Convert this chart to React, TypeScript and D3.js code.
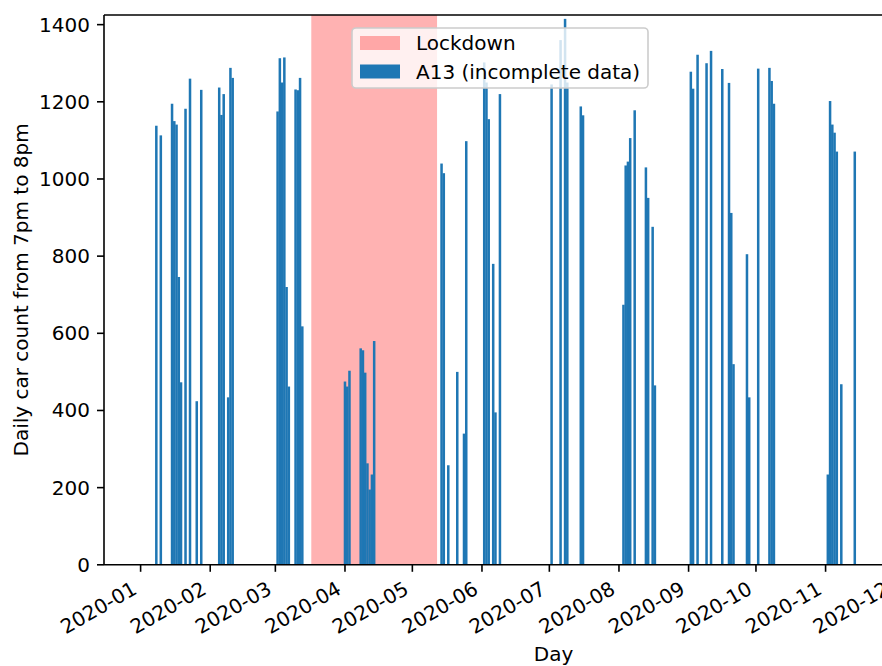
import React from "react";
import * as d3 from "d3";

// days with A13 counts (missing days are simply absent)
const barDates = [
  "2020-01-08", "2020-01-10", "2020-01-15", "2020-01-16", "2020-01-17", "2020-01-18", "2020-01-19",
  "2020-01-21", "2020-01-23", "2020-01-26", "2020-01-28",
  "2020-02-05", "2020-02-06", "2020-02-07", "2020-02-09", "2020-02-10", "2020-02-11",
  "2020-03-02", "2020-03-03", "2020-03-04", "2020-03-05", "2020-03-06", "2020-03-07",
  "2020-03-10", "2020-03-11", "2020-03-12", "2020-03-13",
  "2020-04-01", "2020-04-02", "2020-04-03", "2020-04-08", "2020-04-09", "2020-04-10",
  "2020-04-11", "2020-04-12", "2020-04-13", "2020-04-14",
  "2020-05-14", "2020-05-15", "2020-05-17", "2020-05-21", "2020-05-24", "2020-05-25",
  "2020-06-02", "2020-06-03", "2020-06-04", "2020-06-06", "2020-06-07", "2020-06-09",
  "2020-07-02", "2020-07-06", "2020-07-08", "2020-07-09", "2020-07-15", "2020-07-16",
  "2020-08-03", "2020-08-04", "2020-08-05", "2020-08-06", "2020-08-08",
  "2020-08-13", "2020-08-14", "2020-08-16", "2020-08-17",
  "2020-09-02", "2020-09-03", "2020-09-05", "2020-09-09", "2020-09-11", "2020-09-16",
  "2020-09-19", "2020-09-20", "2020-09-21", "2020-09-27", "2020-09-28",
  "2020-10-02", "2020-10-07", "2020-10-08", "2020-10-09",
  "2020-11-02", "2020-11-03", "2020-11-04", "2020-11-05", "2020-11-06", "2020-11-08", "2020-11-14",
];

const carCounts = [
  1138, 1113, 1195, 1150, 1141, 746, 473,
  1182, 1260, 424, 1231,
  1237, 1166, 1220, 434, 1288, 1262,
  1175, 1313, 1250, 1315, 720, 462,
  1232, 1230, 1262, 618,
  475, 462, 503, 561, 556, 498,
  263, 195, 234, 580,
  1040, 1015, 258, 500, 340, 1098,
  1302, 1250, 1155, 780, 395, 1220,
  1245, 1360, 1415, 1250, 1188, 1165,
  674, 1035, 1045, 1106, 1178,
  1030, 951, 876, 465,
  1278, 1234, 1322, 1300, 1332, 1285,
  1249, 912, 520, 805, 434,
  1286, 1288, 1254, 1195,
  234, 1202, 1141, 1120, 1071, 468, 1071,
];

const lockdownRange = ["2020-03-17", "2020-05-12"];
const yTicks = [0, 200, 400, 600, 800, 1000, 1200, 1400];
const legendLabels = ["Lockdown", "A13 (incomplete data)"];

const DAY = 864e5;
const parse = d3.utcParse("%Y-%m-%d");
const fmt = d3.utcFormat("%Y-%m");

const left = 104, right = 1003, top = 15, bottom = 564.8;
const fs = 20;

export default function App() {
  const jan1 = parse("2020-01-01")!;
  const x = d3.scaleUtc()
    .domain([new Date(jan1.getTime() - 16.3 * DAY), new Date(jan1.getTime() + 384 * DAY)])
    .range([left, right]);
  const y = d3.scaleLinear().domain([0, 1425]).range([bottom, top]);

  const data = barDates.map((d, i) => ({ date: parse(d)!, value: carCounts[i] }));
  // one day wide, a hair more so consecutive days merge into solid blocks
  const bw = (x(new Date(jan1.getTime() + DAY)) - x(jan1)) * 1.12;
  const months = d3.utcMonth.range(jan1, parse("2021-01-01")!);

  const ls = x(parse(lockdownRange[0])!);
  const le = x(parse(lockdownRange[1])!);

  return (
    <svg width={882} height={666} style={{ position: "absolute", left: 0, top: 0, background: "#fff" }}
      fontFamily="'DejaVu Sans', sans-serif">
      {/* lockdown span */}
      <rect x={ls} y={top} width={le - ls} height={bottom - top} fill="red" fillOpacity={0.3} />

      {data.map((d, i) => (
        <rect key={i} x={x(d.date) - bw / 2} y={y(d.value)} width={bw} height={bottom - y(d.value)} fill="#1f77b4" />
      ))}

      {/* spines */}
      <g stroke="#000" strokeWidth={1.6} fill="none">
        <line x1={left} x2={left} y1={top} y2={bottom} />
        <line x1={left} x2={right} y1={bottom} y2={bottom} />
        <line x1={left} x2={right} y1={top} y2={top} />
      </g>

      {/* y axis */}
      {yTicks.map(t => (
        <g key={t}>
          <line x1={left - 7} x2={left} y1={y(t)} y2={y(t)} stroke="#000" strokeWidth={1.6} />
          <text x={left - 14} y={y(t)} fontSize={fs} textAnchor="end" dominantBaseline="central">{t}</text>
        </g>
      ))}

      {/* x axis */}
      {months.map(m => {
        const tx = x(m);
        return (
          <g key={m.getTime()}>
            <line x1={tx} x2={tx} y1={bottom} y2={bottom + 7} stroke="#000" strokeWidth={1.6} />
            <text transform={`translate(${tx - 2.4},${bottom + 28}) rotate(-30)`} fontSize={fs} textAnchor="end">
              {fmt(m)}
            </text>
          </g>
        );
      })}

      <text x={(left + right) / 2} y={661} fontSize={fs} textAnchor="middle">Day</text>
      <text transform={`translate(21,${(top + bottom) / 2}) rotate(-90)`} fontSize={fs} textAnchor="middle"
        dominantBaseline="central">Daily car count from 7pm to 8pm</text>

      {/* legend */}
      <g>
        <rect x={352} y={28} width={296} height={60} rx={4} fill="#fff" fillOpacity={0.8} stroke="#ccc" strokeWidth={1.6} />
        <rect x={360} y={36} width={40} height={14} fill="red" fillOpacity={0.3} />
        <rect x={360} y={64.5} width={40} height={14} fill="#1f77b4" />
        <text x={416} y={43} fontSize={fs} dominantBaseline="central">{legendLabels[0]}</text>
        <text x={416} y={71.5} fontSize={fs} dominantBaseline="central">{legendLabels[1]}</text>
      </g>
    </svg>
  );
}
